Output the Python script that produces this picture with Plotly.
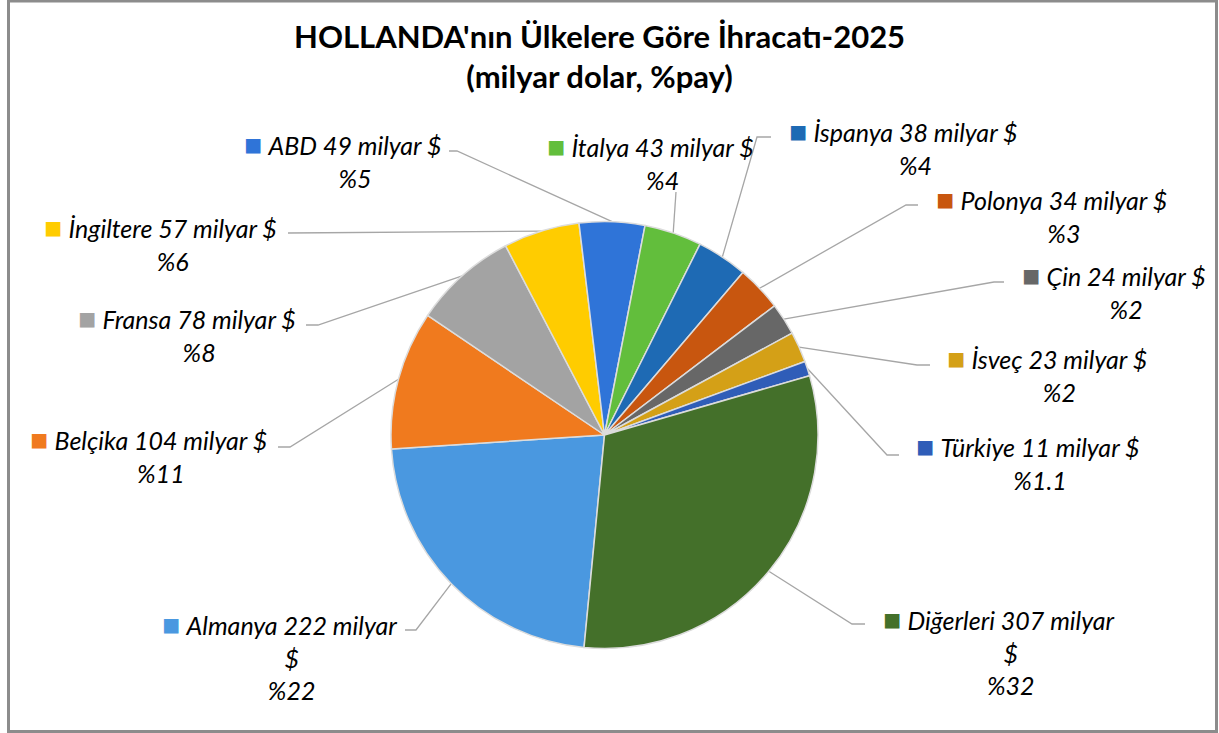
import math
import plotly.graph_objects as go

# ---------------- data ----------------
countries = ["Almanya", "Belçika", "Fransa", "İngiltere", "ABD", "İtalya",
             "İspanya", "Polonya", "Çin", "İsveç", "Türkiye", "Diğerleri"]
values = [222, 104, 78, 57, 49, 43, 38, 34, 24, 23, 11, 307]
shares = ["22", "11", "8", "6", "5", "4", "4", "3", "2", "2", "1.1", "32"]
unit = "milyar $"
title_lines = ["HOLLANDA'nın Ülkelere Göre İhracatı-2025", "(milyar dolar, %pay)"]

# ---------------- style / layout ----------------
colors = ["#4A98E0", "#F07A1E", "#A3A3A3", "#FFCC00", "#2F74D8", "#62BE3C",
          "#1E6AB4", "#C8560F", "#676767", "#D4A017", "#2F5DB8", "#44702A"]

W, H = 1219, 733
CX, CY, R = 604.5, 435.0, 213.5          # pie centre / radius in pixels
ROT = 185.5                              # start angle of first slice (clockwise from 12 o'clock)
FONT = "Lato"

# label layout in pixels: block centre (x, y), wrap "$" to next line, elbow points toward the pie
label_layout = {
    "Almanya":   dict(c=(279, 655),  wrap=True,  pts=[(405, 630), (416, 630)]),
    "Belçika":   dict(c=(148, 454),  wrap=False, pts=[(278, 447), (290, 447)]),
    "Fransa":    dict(c=(187, 333),  wrap=False, pts=[(306, 325), (318, 325)]),
    "İngiltere": dict(c=(160, 242),  wrap=False, pts=[(288, 233)]),
    "ABD":       dict(c=(343, 159),  wrap=False, pts=[(449, 151), (457, 151)]),
    "İtalya":    dict(c=(650, 161),  wrap=False, pts=[(676, 192)]),
    "İspanya":   dict(c=(903, 146),  wrap=False, pts=[(771, 137), (757, 137)]),
    "Polonya":   dict(c=(1051, 214), wrap=False, pts=[(918, 205), (906, 205)]),
    "Çin":       dict(c=(1114, 290), wrap=False, pts=[(1004, 282), (994, 282)]),
    "İsveç":     dict(c=(1047, 373), wrap=False, pts=[(930, 365), (917, 365)]),
    "Türkiye":   dict(c=(1028, 462), wrap=False, pts=[(899, 455), (887, 455)]),
    "Diğerleri": dict(c=(999, 650),  wrap=True,  pts=[(865, 624), (852, 624)]),
}


def px(x):
    return x / W


def py(y):
    return 1 - y / H


fig = go.Figure(go.Pie(
    labels=countries, values=values, sort=False, direction="clockwise", rotation=ROT,
    marker=dict(colors=colors, line=dict(color="#dcdcdc", width=1.5)),
    textinfo="none", hoverinfo="label+value", showlegend=False,
    domain=dict(x=[px(CX - R), px(CX + R)], y=[py(CY + R), py(CY - R)]),
))

shapes = []
annotations = []
total = sum(values)
cum = 0.0
for name, v, s, col in zip(countries, values, shares, colors):
    mid = math.radians(ROT + 360.0 * (cum + v / 2.0) / total)
    cum += v
    ex = CX + R * math.sin(mid)
    ey = CY - R * math.cos(mid)
    lay = label_layout[name]
    pts = lay["pts"] + [(ex, ey)]
    path = "M " + " L ".join(f"{px(a):.5f},{py(b):.5f}" for a, b in pts)
    shapes.append(dict(type="path", path=path, xref="paper", yref="paper",
                       line=dict(color="#a6a6a6", width=1.3), layer="below"))

    sq = f"<span style='color:{col};font-size:30px'>■</span>\u00a0"
    ghost = "<span style='color:rgba(0,0,0,0);font-size:30px'>■</span>\u00a0"
    if lay["wrap"]:
        main = unit.replace(" $", "")
        text = (f"{sq}<i>{name} {v} {main}</i><br>{ghost}<i>$</i><br>{ghost}<i>%{s}</i>")
    else:
        text = f"{sq}<i>{name} {v} {unit}</i><br>{ghost}<i>%{s}</i>"
    annotations.append(dict(
        x=px(lay["c"][0]), y=py(lay["c"][1]), xref="paper", yref="paper",
        xanchor="center", yanchor="middle", align="center", showarrow=False,
        text=text, font=dict(family=FONT, size=25, color="#000000"),
    ))

annotations.append(dict(
    x=px(599.5), y=py(56), xref="paper", yref="paper", xanchor="center", yanchor="middle",
    align="center", showarrow=False,
    text="<b>" + title_lines[0] + "</b><br><b>" + title_lines[1] + "</b>",
    font=dict(family=FONT, size=31, color="#000000"),
))

# chart frame
shapes.append(dict(type="rect", xref="paper", yref="paper",
                   x0=px(8.5), x1=px(1216.5), y0=py(731.5), y1=py(1),
                   line=dict(color="#8c8c8c", width=3)))

fig.update_layout(
    width=W, height=H, margin=dict(l=0, r=0, t=0, b=0),
    paper_bgcolor="white", plot_bgcolor="white",
    shapes=shapes, annotations=annotations, showlegend=False,
)

fig.write_html("out.html", config={"displayModeBar": False},
               post_script="document.body.style.margin='0';document.body.style.overflow='hidden';")
